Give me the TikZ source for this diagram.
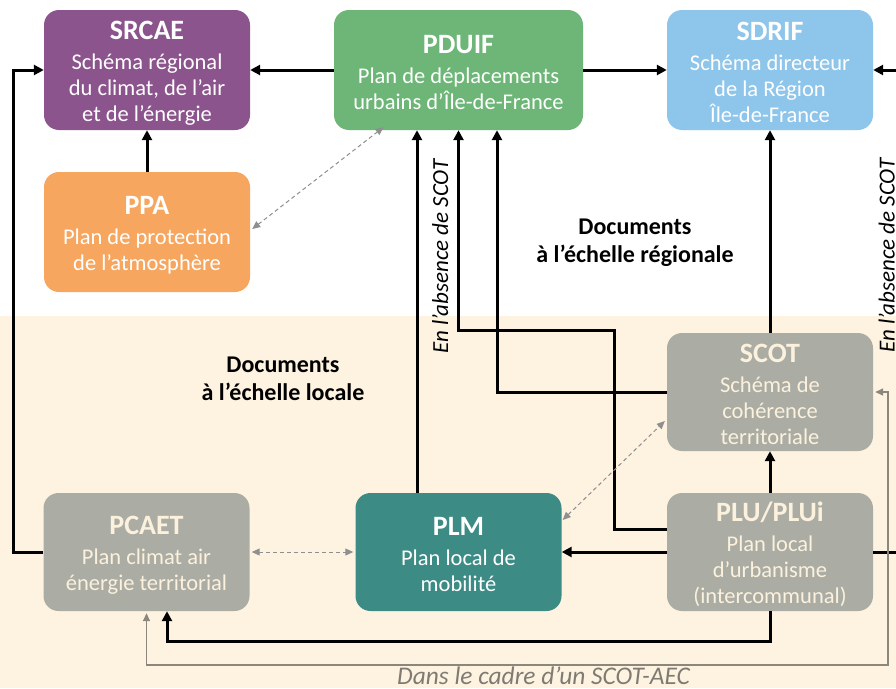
\documentclass[tikz,border=0pt]{standalone}
\usepackage{fontspec}
\setmainfont{Carlito}
\usetikzlibrary{arrows.meta,calc}
\definecolor{cPurple}{HTML}{8C548C}
\definecolor{cGreen}{HTML}{6DB677}
\definecolor{cBlue}{HTML}{8EC5EA}
\definecolor{cOrange}{HTML}{F6A65E}
\definecolor{cGrey}{HTML}{ABADA5}
\definecolor{cTeal}{HTML}{3C8B84}
\definecolor{cBeige}{HTML}{FDF3E0}
\definecolor{cCream}{HTML}{FBF1DC}
\definecolor{cLine}{HTML}{8C877C}
\definecolor{cDash}{HTML}{8F8F8F}
\definecolor{cGText}{HTML}{7F7B73}
\newcommand\ttlfont{\fontsize{28}{32}\selectfont\bfseries}
\newcommand\ttlstrut{\rule{0pt}{24pt}}
\begin{document}
\begin{tikzpicture}[x=1pt,y=-1pt,
  box/.style={rounded corners=15pt, minimum width=206pt, minimum height=120pt,
    align=center, inner sep=0pt, text=white, font=\fontsize{22.5}{26}\selectfont},
  lowbox/.style={box, minimum height=118pt},
  greybox/.style={lowbox, fill=cGrey, text=cCream},
  arr/.style={line width=3pt, -{Triangle[length=10pt,width=10pt]}},
  garr/.style={line width=1.5pt, draw=cLine, {Triangle[length=8pt,width=7pt]}-{Triangle[length=8pt,width=7pt]}},
  darr/.style={line width=1pt, draw=cDash, dash pattern=on 4pt off 3pt,
    {Triangle[length=8pt,width=7pt]}-{Triangle[length=8pt,width=7pt]}},
  lab/.style={font=\fontsize{24}{28}\selectfont\bfseries, align=center},
  ital/.style={font=\fontsize{23}{26}\selectfont\itshape, inner sep=0pt}]
\useasboundingbox (0,0) rectangle (896,688);
\clip (0,0) rectangle (896,688);
\fill[white] (0,0) rectangle (896,316);
\fill[cBeige] (0,316) rectangle (896,688);

% boxes
\node[box, fill=cPurple] (srcae) at (147,70) {\ttlstrut{\ttlfont SRCAE}\\[4pt] Schéma régional\\ du climat, de l’air\\ et de l’énergie};
\node[box, fill=cGreen, minimum width=249pt] (pduif) at (458.5,70) {\ttlstrut{\ttlfont PDUIF}\\[4pt] Plan de déplacements\\ urbains d’Île-de-France};
\node[box, fill=cBlue] (sdrif) at (770,70) {\ttlstrut{\ttlfont SDRIF}\\[4pt] Schéma directeur\\ de la Région\\ Île-de-France};
\node[box, fill=cOrange] (ppa) at (147,232) {\ttlstrut{\ttlfont PPA}\\[4pt] Plan de protection\\ de l’atmosphère};
\node[greybox] (scot) at (770,392) {\ttlstrut{\ttlfont SCOT}\\[4pt] Schéma de\\ cohérence\\ territoriale};
\node[greybox] (pcaet) at (146.5,552) {\ttlstrut{\ttlfont PCAET}\\[4pt] Plan climat air\\ énergie territorial};
\node[lowbox, fill=cTeal] (plm) at (458.5,552) {\ttlstrut{\ttlfont PLM}\\[4pt] Plan local de\\ mobilité};
\node[greybox] (plu) at (770,552) {\ttlstrut{\ttlfont PLU/PLUi}\\[4pt] Plan local\\ d’urbanisme\\ (intercommunal)};

% labels
\node[lab] (reg) at (635,243) {Documents\\ à l’échelle régionale};
\node[lab] (loc) at (283,379) {Documents\\ à l’échelle locale};
\node[ital, rotate=90, anchor=base west] (abs1) at (448,354) {En l’absence de SCOT};
\node[ital, rotate=90, anchor=base west] (abs2) at (894.5,353) {En l’absence de SCOT};
\node[ital, font=\fontsize{25.4}{28}\selectfont\itshape, text=cGText, anchor=base west] (aec) at (397,684) {Dans le cadre d’un SCOT-AEC};

% helper coordinates
\coordinate (k1) at (614,330);
\coordinate (k2) at (888,392);
\coordinate (k3) at (899,70);

% connectors
\draw[arr] (pduif) -- (srcae);
\draw[arr] (pduif) -- (sdrif);
\draw[arr] (ppa) -- (srcae);
\draw[arr] (pcaet.west) -- ++(-30,0) |- (srcae.west);
\draw[arr] ([xshift=-41.5pt]plm.north) -- ([xshift=-41.5pt]pduif.south);
\draw[arr] ([yshift=23pt]plu.west) -| (k1) -| (pduif.south);
\draw[arr] (scot.west) -| ([xshift=38.5pt]pduif.south);
\draw[arr] (scot) -- (sdrif);
\draw[arr] (plu) -- (scot);
\draw[arr] (plu) -- (plm);
\draw[arr] (plu.south) -- ++(0,30) -| ([xshift=20.5pt]pcaet.south);
\draw[arr] (plu.east) -| (k3) -- (sdrif.east);
\draw[garr] ([yshift=-2pt]pcaet.south) -- ++(0,52) -| (k2) -- ([xshift=2pt]scot.east);
\draw[darr] ([yshift=3pt,xshift=2pt]ppa.east) -- ([xshift=-75pt,yshift=3pt]pduif.south);
\draw[darr] ([xshift=2pt]pcaet.east) -- ([xshift=-2pt]plm.west);
\draw[darr] ([yshift=32pt,xshift=1pt]plm.east) -- ([yshift=-29pt,xshift=-2pt]scot.west);
\end{tikzpicture}
\end{document}
